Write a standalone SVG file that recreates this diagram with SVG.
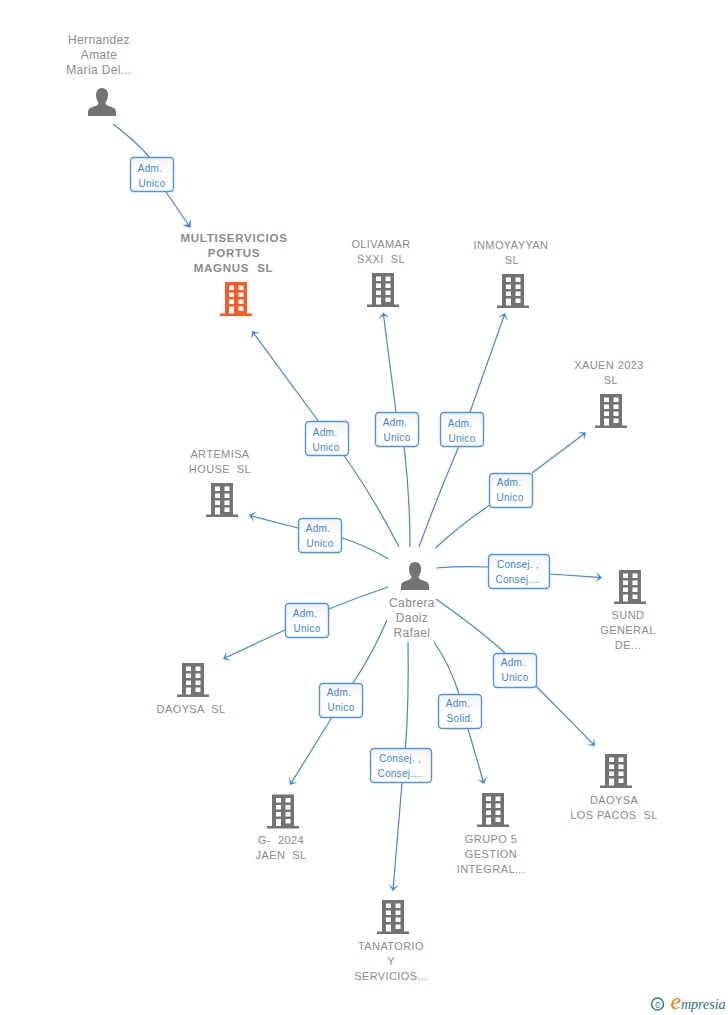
<svg xmlns="http://www.w3.org/2000/svg" width="728" height="1015" viewBox="0 0 728 1015">
<style>
text{font-family:"Liberation Sans",Arial,sans-serif}
.n{font-size:11px;fill:#8c8c8c;text-anchor:middle;letter-spacing:.4px}
.b{font-weight:bold;font-size:11.5px;letter-spacing:.75px}
.p{font-size:12px;letter-spacing:.35px}
.l{font-size:10px;fill:#4384dc;text-anchor:middle;letter-spacing:.3px}
.e{fill:none;stroke:#4287e0;stroke-width:1.2}
.a{fill:#3d84e0}
.box{fill:url(#g);stroke:#5092e6;stroke-width:1.4}
</style>
<defs>
<linearGradient id="g" x1="0" y1="0" x2="0" y2="1"><stop offset="0" stop-color="#f3f3f3"/><stop offset=".5" stop-color="#fff"/></linearGradient>
<symbol id="bld" viewBox="0 0 32 34" width="32" height="34" overflow="visible">
<path fill-rule="evenodd" d="M5 0H27V31.5H32V34H0V31.5H5ZM9 3.500V8H14V3.500ZM18.500 3.500V8H23.500V3.500ZM9 10.500V15H14V10.500ZM18.500 10.500V15H23.500V10.500ZM9 17.500V22H14V17.500ZM18.500 17.500V22H23.500V17.500ZM9 24.500V31.500H14V24.500ZM18.500 24.500V29H23.500V24.500Z"/>
</symbol>
<symbol id="per" viewBox="0 0 28 28" width="28" height="28">
<path d="M14 0C10 0 8 3 8 7C8 10 9 12.500 10.500 14.500C10.500 16.500 9 17.500 6 18.500C2 19.800 0 21 0 24V28H28V24C28 21 26 19.800 22 18.500C19 17.500 17.500 16.500 17.500 14.500C19 12.500 20 10 20 7C20 3 18 0 14 0Z"/>
</symbol>
</defs>
<g id="connectors">
<path class="e" d="M113 124Q137 142 152 160"/><path class="e" d="M166 192L188.500 225"/><polygon class="a" points="190.500,228 182.200,225 188.300,224.500 191,219"/>
<path class="e" d="M399 547Q365 480 319 422"/><path class="e" d="M319 422L253.800 333.400"/><polygon class="a" points="252,331 260.100,333.100 253.800,333.400 251.600,339.300"/>
<path class="e" d="M410 547Q410 495 404 446"/><path class="e" d="M396 412L383.500 315"/><polygon class="a" points="383.300,312.500 389.100,317.700 383.400,315.500 378.600,319.100"/>
<path class="e" d="M419 547Q438 495 459 446"/><path class="e" d="M470 412L504 316"/><polygon class="a" points="505,313 507.800,320.900 504,315.800 497.800,317.300"/>
<path class="e" d="M435.500 548Q460 525 490 505"/><path class="e" d="M532 473L583.600 434.300"/><polygon class="a" points="586,432.500 584,440.600 583.600,434.300 577.600,432.200"/>
<path class="e" d="M388.500 559Q365 545 342 538"/><path class="e" d="M298 528L252 516"/><polygon class="a" points="249,515 256.600,511.600 251.900,515.800 253.900,521.800"/>
<path class="e" d="M436 568Q460 566 488 567"/><path class="e" d="M550 574L599 577.400"/><polygon class="a" points="602,577.700 595,582.300 599,577.400 596,571.700"/>
<path class="e" d="M388 587Q358 597 329 609"/><path class="e" d="M285 630L226 657.500"/><polygon class="a" points="223,659 231.100,661 225.700,657.700 226.600,651.400"/>
<path class="e" d="M436 599Q480 630 505 653"/><path class="e" d="M536 686L592.900 743.900"/><polygon class="a" points="595,746 594.200,737.700 592.900,743.900 586.700,745.100"/>
<path class="e" d="M387 620Q372 655 353 683"/><path class="e" d="M331.500 718L291.600 782.400"/><polygon class="a" points="290,785 297.900,782.200 291.600,782.400 288.900,776.700"/>
<path class="e" d="M408 642Q409 700 405.500 748"/><path class="e" d="M402 783L393.200 888"/><polygon class="a" points="393,891 398.800,884.900 393.200,888 388.200,884.100"/>
<path class="e" d="M434 642Q450 665 459 694"/><path class="e" d="M468 729L483.200 781"/><polygon class="a" points="484,784 487.300,776.300 483.200,781 477.100,779.300"/>
</g>
<g id="label-hernandez"><rect class="box" x="130.500" y="157.500" width="43" height="34" rx="3.500"/><text class="l" x="150" y="172">Adm.</text><text class="l" x="152" y="187">Unico</text></g>
<g id="label-1"><rect class="box" x="305.500" y="421.500" width="43" height="34" rx="3.500"/><text class="l" x="325" y="436">Adm.</text><text class="l" x="326" y="451">Unico</text></g>
<g id="label-2"><rect class="box" x="375.500" y="412.500" width="43" height="34" rx="3.500"/><text class="l" x="395" y="426">Adm.</text><text class="l" x="397" y="441">Unico</text></g>
<g id="label-3"><rect class="box" x="440.500" y="412.500" width="43" height="34" rx="3.500"/><text class="l" x="460" y="427">Adm.</text><text class="l" x="462" y="442">Unico</text></g>
<g id="label-4"><rect class="box" x="489.500" y="473.500" width="43" height="34" rx="3.500"/><text class="l" x="509" y="486">Adm.</text><text class="l" x="510" y="501">Unico</text></g>
<g id="label-5"><rect class="box" x="298.500" y="518.500" width="43" height="34" rx="3.500"/><text class="l" x="318" y="532">Adm.</text><text class="l" x="320" y="547">Unico</text></g>
<g id="label-6"><rect class="box" x="488.500" y="554.500" width="61" height="34" rx="3.500"/><text class="l" x="518" y="568">Consej. ,</text><text class="l" x="518" y="583">Consej....</text></g>
<g id="label-7"><rect class="box" x="285.500" y="603.500" width="43" height="34" rx="3.500"/><text class="l" x="305" y="617">Adm.</text><text class="l" x="307" y="632">Unico</text></g>
<g id="label-8"><rect class="box" x="493.500" y="653.500" width="43" height="34" rx="3.500"/><text class="l" x="513" y="666">Adm.</text><text class="l" x="515" y="681">Unico</text></g>
<g id="label-9"><rect class="box" x="319.500" y="683.500" width="43" height="34" rx="3.500"/><text class="l" x="339" y="696">Adm.</text><text class="l" x="341" y="711">Unico</text></g>
<g id="label-10"><rect class="box" x="438.500" y="694.500" width="43" height="34" rx="3.500"/><text class="l" x="458" y="707">Adm.</text><text class="l" x="460" y="722">Solid.</text></g>
<g id="label-11"><rect class="box" x="370.500" y="748.500" width="61" height="34" rx="3.500"/><text class="l" x="400" y="762">Consej. ,</text><text class="l" x="400" y="777">Consej....</text></g>
<g id="hernandez"><text class="n p" x="99" y="44">Hernandez</text><text class="n p" x="99" y="59">Amate</text><text class="n p" x="99" y="74">Maria Del...</text><use href="#per" x="88" y="88" fill="#737373"/></g>
<g id="cabrera"><text class="n p" x="412" y="607">Cabrera</text><text class="n p" x="412" y="622">Daoiz</text><text class="n p" x="412" y="637">Rafael</text><use href="#per" x="401" y="562" fill="#737373"/></g>
<g id="multiservicios"><text class="n b" x="234" y="242">MULTISERVICIOS</text><text class="n b" x="234" y="257">PORTUS</text><text class="n b" x="233.500" y="272" xml:space="preserve">MAGNUS  SL</text><use href="#bld" x="220" y="282" fill="#ff5a26"/></g>
<g id="olivamar"><text class="n" x="381" y="248">OLIVAMAR</text><text class="n" x="381" y="263" xml:space="preserve">SXXI  SL</text><use href="#bld" x="367" y="273" fill="#737373"/></g>
<g id="inmoyayyan"><text class="n" x="511" y="249">INMOYAYYAN</text><text class="n" x="512" y="264">SL</text><use href="#bld" x="497" y="274" fill="#737373"/></g>
<g id="xauen"><text class="n" x="609" y="369">XAUEN 2023</text><text class="n" x="611" y="384">SL</text><use href="#bld" x="595" y="394" fill="#737373"/></g>
<g id="artemisa"><text class="n" x="220" y="458">ARTEMISA</text><text class="n" x="220" y="473" xml:space="preserve">HOUSE  SL</text><use href="#bld" x="206" y="483" fill="#737373"/></g>
<g id="sund"><use href="#bld" x="614" y="570" fill="#737373"/><text class="n" x="628" y="619">SUND</text><text class="n" x="628" y="634">GENERAL</text><text class="n" x="628" y="649">DE...</text></g>
<g id="daoysa"><use href="#bld" x="177" y="663" fill="#737373"/><text class="n" x="191" y="713" xml:space="preserve">DAOYSA  SL</text></g>
<g id="daoysa-pacos"><use href="#bld" x="600" y="754" fill="#737373"/><text class="n" x="614" y="804">DAOYSA</text><text class="n" x="614" y="819" xml:space="preserve">LOS PACOS  SL</text></g>
<g id="g2024"><use href="#bld" x="267" y="794.500" fill="#737373"/><text class="n" x="281" y="844" xml:space="preserve">G-  2024</text><text class="n" x="281" y="859" xml:space="preserve">JAEN  SL</text></g>
<g id="grupo5"><use href="#bld" x="477" y="793" fill="#737373"/><text class="n" x="491" y="843">GRUPO 5</text><text class="n" x="491" y="858">GESTION</text><text class="n" x="491" y="873">INTEGRAL...</text></g>
<g id="tanatorio"><use href="#bld" x="377" y="900" fill="#737373"/><text class="n" x="391" y="950">TANATORIO</text><text class="n" x="391" y="965">Y</text><text class="n" x="391" y="980">SERVICIOS...</text></g>
<g id="empresia"><circle cx="657.500" cy="1004" r="6" fill="none" stroke="#3f7f94" stroke-width="1.600"/><text x="657.500" y="1007.500" font-size="10" fill="#3f7f94" text-anchor="middle">c</text><text x="670.500" y="1009" font-size="24" fill="#f08010" style="font-family:'Liberation Serif',serif;font-style:italic">e</text><text x="681" y="1008.500" font-size="14" fill="#2f6f88" style="font-family:'Liberation Serif',serif;font-style:italic">mpresia</text></g>
</svg>
